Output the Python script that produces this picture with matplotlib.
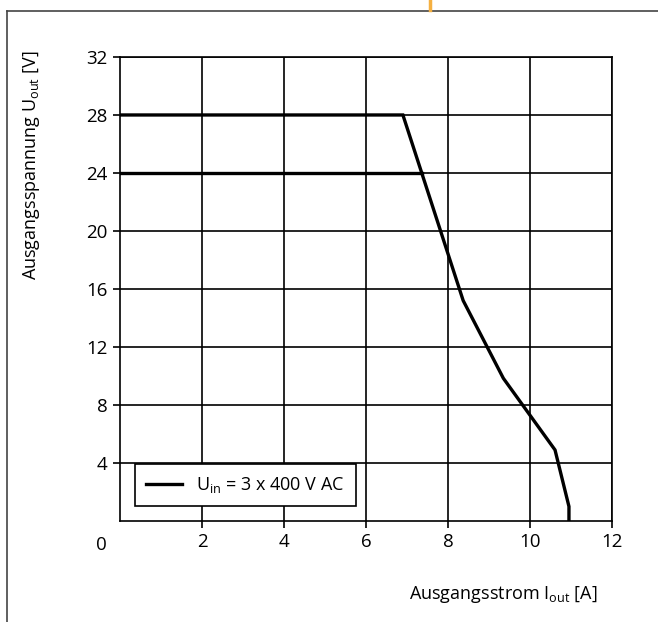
import matplotlib
matplotlib.use("Agg")
import matplotlib.pyplot as plt
from matplotlib.lines import Line2D

plt.rcParams['font.family'] = ['Open Sans', 'DejaVu Sans']
plt.rcParams['mathtext.fontset'] = 'custom'
plt.rcParams['mathtext.rm'] = 'Open Sans'

# curve
i_out = [0, 6.9, 8.37, 9.35, 10.61, 10.95, 10.95]
u_out = [28, 28, 15.2, 9.84, 4.9, 1.0, 0]
# 24 V setting, runs into the same curve
i_24 = [0, 7.36]
u_24 = [24, 24]

xticks = [2, 4, 6, 8, 10, 12]
yticks = [4, 8, 12, 16, 20, 24, 28, 32]

fs = 13

fig = plt.figure(figsize=(6.58, 6.22), dpi=100)
ax = fig.add_axes([0.1824, 0.1624, 0.7477, 0.7460])

ax.plot(i_out, u_out, color='black', lw=2.4, solid_joinstyle='miter',
        label=r'U$_{\mathregular{in}}$ = 3 x 400 V AC', zorder=3)
ax.plot(i_24, u_24, color='black', lw=2.4, zorder=3)

ax.set_xlim(0, 12)
ax.set_ylim(0, 32)
ax.set_xticks(xticks)
ax.set_yticks(yticks)
ax.grid(True, color='black', lw=1.2)
for s in ax.spines.values():
    s.set_linewidth(1.2)
ax.tick_params(length=5, width=1.2, labelsize=13.5, pad=4)
ax.text(-0.45, -1.65, '0', ha='center', va='center', fontsize=13.5)

ax.set_xlabel(r'Ausgangsstrom I$_{\mathregular{out}}$ [A]', fontsize=fs)
ax.xaxis.set_label_coords(0.97, -0.135)
ax.xaxis.label.set_horizontalalignment('right')
ax.set_ylabel(r'Ausgangsspannung U$_{\mathregular{out}}$ [V]', fontsize=fs)
ax.yaxis.set_label_coords(-0.18, 1.015)
ax.yaxis.label.set_verticalalignment('center')
ax.yaxis.label.set_horizontalalignment('right')

leg = ax.legend(loc='lower left', bbox_to_anchor=(0.03, 0.032), borderaxespad=0,
                fontsize=fs, fancybox=False, framealpha=1, edgecolor='black',
                handlelength=2.0, borderpad=0.6)
leg.get_frame().set_linewidth(1.2)

# page frame around the chart
fig.add_artist(Line2D([7/658, 1], [1 - 11/622, 1 - 11/622], color='#444444', lw=1.2))
fig.add_artist(Line2D([7/658, 7/658], [0, 1 - 11/622], color='#444444', lw=1.2))
fig.add_artist(Line2D([430/658, 430/658], [1 - 10/622, 1], color='#f5b041', lw=2.5))

fig.savefig('out.png', dpi=100)
